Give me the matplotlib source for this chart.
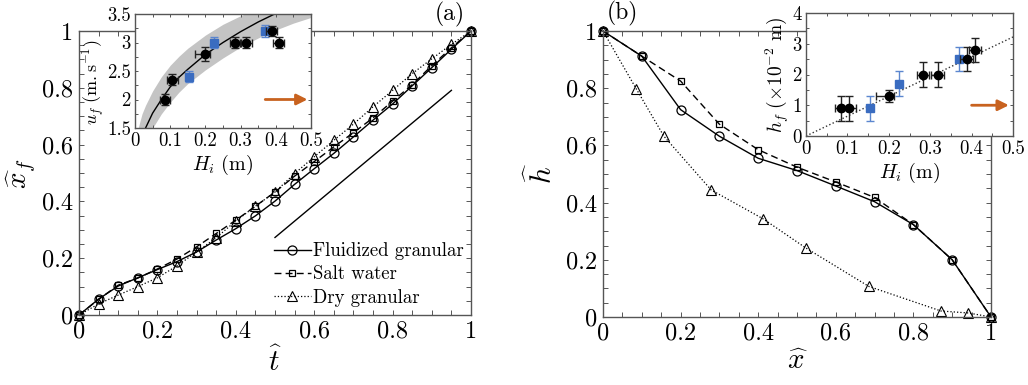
import numpy as np
import matplotlib
matplotlib.use("Agg")
import matplotlib.pyplot as plt
from matplotlib.ticker import MultipleLocator

plt.rcParams['font.family'] = ['cmr10', 'DejaVu Serif']
plt.rcParams['mathtext.fontset'] = 'cm'
plt.rcParams['axes.formatter.use_mathtext'] = True

# ---------------- data: panel (a) ----------------
t_hat = [0, 0.05, 0.1, 0.15, 0.2, 0.25, 0.3, 0.35, 0.4, 0.45, 0.5,
         0.55, 0.6, 0.65, 0.7, 0.75, 0.8, 0.85, 0.9, 0.95, 1.0]
xf_fluidized = [0, 0.056, 0.102, 0.131, 0.16, 0.188, 0.222, 0.264, 0.304, 0.349, 0.401,
                0.46, 0.515, 0.569, 0.627, 0.686, 0.743, 0.807, 0.871, 0.936, 1.0]
xf_salt = [0, 0.055, 0.105, 0.13, 0.162, 0.197, 0.24, 0.287, 0.334, 0.383, 0.433,
           0.489, 0.54, 0.592, 0.642, 0.694, 0.753, 0.811, 0.878, 0.941, 1.0]
xf_dry = [0, 0.039, 0.07, 0.1, 0.131, 0.173, 0.222, 0.272, 0.331, 0.383, 0.433,
          0.498, 0.557, 0.615, 0.672, 0.733, 0.791, 0.85, 0.902, 0.953, 1.0]
ref_line_t = [0.5, 0.95]
ref_line_x = [0.273, 0.791]

# inset (a): front speed vs initial height
Hi_black_a = [0.085, 0.106, 0.2, 0.284, 0.316, 0.388, 0.408]
uf_black_a = [2.0, 2.35, 2.8, 3.0, 3.0, 3.2, 3.0]
uf_black_yerr = [0.09, 0.09, 0.12, 0.09, 0.09, 0.09, 0.09]
Hi_black_xerr_lo = [0.015, 0.015, 0.03, 0.015, 0.015, 0.015, 0.015]
Hi_black_xerr_hi = [0.015, 0.015, 0.013, 0.015, 0.015, 0.015, 0.015]
Hi_blue_a = [0.154, 0.224, 0.369]
uf_blue_a = [2.4, 3.0, 3.2]
uf_blue_yerr = [0.1, 0.1, 0.1]
fit_H = [0.02, 0.03, 0.05, 0.075, 0.1, 0.125, 0.15, 0.2, 0.25, 0.3, 0.35, 0.4, 0.42]
fit_u = [1.32, 1.5, 1.76, 2.0, 2.22, 2.39, 2.53, 2.79, 3.0, 3.19, 3.36, 3.51, 3.56]
band_H = [0.0, 0.009, 0.02, 0.03, 0.05, 0.075, 0.1, 0.125, 0.15, 0.2, 0.25, 0.3, 0.35, 0.4, 0.45, 0.5]
band_upper = [1.2, 1.5, 1.75, 1.9, 2.15, 2.4, 2.6, 2.76, 2.9, 3.13, 3.32, 3.47, 3.6, 3.72, 3.82, 3.92]
band_lower = [0.5, 0.85, 1.1, 1.25, 1.5, 1.75, 1.95, 2.13, 2.28, 2.52, 2.73, 2.92, 3.08, 3.22, 3.34, 3.44]

# ---------------- data: panel (b) ----------------
x_hat = [0, 0.1, 0.2, 0.3, 0.4, 0.5, 0.6, 0.7, 0.8, 0.9, 1.0]
h_fluidized = [1.0, 0.912, 0.725, 0.632, 0.555, 0.512, 0.458, 0.403, 0.323, 0.2, 0.0]
h_salt = [1.0, 0.912, 0.825, 0.674, 0.585, 0.524, 0.472, 0.418, 0.323, 0.2, 0.0]
x_dry = [0, 0.086, 0.157, 0.279, 0.413, 0.522, 0.685, 0.871, 0.942, 1.0]
h_dry = [1.0, 0.797, 0.632, 0.444, 0.343, 0.242, 0.107, 0.021, 0.014, 0.0]

# inset (b): final height vs initial height
Hi_black_b = [0.085, 0.105, 0.2, 0.283, 0.318, 0.388, 0.408]
hf_black_b = [0.9, 0.9, 1.3, 2.0, 2.0, 2.5, 2.8]
hf_black_yerr = [0.4, 0.4, 0.2, 0.4, 0.4, 0.4, 0.4]
Hi_blue_b = [0.155, 0.225, 0.369]
hf_blue_b = [0.9, 1.7, 2.5]
hf_blue_yerr = [0.4, 0.4, 0.4]
trend_H = [0.0, 0.5]
trend_h = [0.0, 3.22]

# ---------------- styling ----------------
SPINE = '#555555'
BLUE = '#3a6cc0'
BLUE_ERR = '#5b86cf'
ORANGE = '#c8621f'
TICK_FS = 17.5
INSET_FS = 13.5
LABEL_FS = 21


def style_axes(ax, fs, xminor, yminor):
    for s in ax.spines.values():
        s.set_color(SPINE)
        s.set_linewidth(1.0)
    ax.tick_params(which='both', direction='in', top=True, right=True,
                   color=SPINE, labelsize=fs, pad=4)
    ax.tick_params(which='major', length=3.5, width=0.7)
    ax.tick_params(which='minor', length=3.5, width=0.7)
    ax.xaxis.set_minor_locator(MultipleLocator(xminor))
    ax.yaxis.set_minor_locator(MultipleLocator(yminor))


def fmt(v):
    s = ('%.2f' % v).rstrip('0').rstrip('.')
    return s


fig = plt.figure(figsize=(10.28, 3.85), dpi=100)

# ---- panel (a) ----
axA = fig.add_axes([79/1028, 1-315/385, 392/1028, 284/385])
axA.plot(t_hat, xf_fluidized, '-', color='k', lw=1.0, marker='o', ms=6.5,
         mfc='none', mec='k', mew=0.9, label='Fluidized granular', clip_on=False)
axA.plot(t_hat, xf_salt, '--', color='k', lw=1.0, marker='s', ms=5,
         mfc='none', mec='k', mew=0.9, dashes=(5, 3), label='Salt water', clip_on=False)
axA.plot(t_hat, xf_dry, ':', color='k', lw=0.9, marker='^', ms=7,
         mfc='none', mec='k', mew=0.8, label='Dry granular', clip_on=False)
axA.plot(ref_line_t, ref_line_x, '-', color='k', lw=1.0)
axA.set_xlim(0, 1)
axA.set_ylim(0, 1)
ticks = [0, 0.2, 0.4, 0.6, 0.8, 1.0]
axA.set_xticks(ticks)
axA.set_xticklabels([fmt(v) for v in ticks])
axA.set_yticks(ticks)
axA.set_yticklabels([fmt(v) for v in ticks])
style_axes(axA, TICK_FS, 0.05, 0.05)
axA.set_xlabel(r'$\widehat{t}$', fontsize=LABEL_FS, labelpad=3)
axA.set_ylabel(r'$\widehat{x}_f$', fontsize=LABEL_FS, labelpad=4)
axA.text(0.946, 1.06, '(a)', transform=axA.transAxes, fontsize=17,
         ha='center', va='center')
leg = axA.legend(loc='lower right', bbox_to_anchor=(1.01, -0.01), frameon=False,
                 fontsize=13.5, handlelength=2.0, handletextpad=0.1,
                 labelspacing=0.28, borderaxespad=0.2)

# ---- inset (a) ----
inA = fig.add_axes([135/1028, 1-128/385, 176/1028, 114/385])
inA.set_facecolor('white')
inA.fill_between(band_H, band_lower, band_upper, color='#c4c4c4', lw=0, zorder=1)
inA.plot(fit_H, fit_u, '-', color='k', lw=1.0, zorder=2)
inA.errorbar(Hi_blue_a, uf_blue_a, yerr=uf_blue_yerr, fmt='s', ms=5.5,
             mfc=BLUE, mec=BLUE, ecolor=BLUE_ERR, elinewidth=1.0, capsize=3, zorder=3)
inA.errorbar(Hi_black_a, uf_black_a, yerr=uf_black_yerr,
             xerr=[Hi_black_xerr_lo, Hi_black_xerr_hi], fmt='o', ms=6,
             mfc='k', mec='k', ecolor='#222222', elinewidth=1.0, capsize=3, zorder=4)
inA.annotate('', xy=(0.49, 2.0), xytext=(0.37, 2.0),
             arrowprops=dict(arrowstyle='-|>', color=ORANGE, lw=2.0,
                             mutation_scale=16, shrinkA=0, shrinkB=0), zorder=5)
inA.set_xlim(0, 0.5)
inA.set_ylim(1.5, 3.5)
xt = [0, 0.1, 0.2, 0.3, 0.4, 0.5]
inA.set_xticks(xt)
inA.set_xticklabels([fmt(v) for v in xt])
yt = [1.5, 2, 2.5, 3, 3.5]
inA.set_yticks(yt)
inA.set_yticklabels([fmt(v) for v in yt])
style_axes(inA, INSET_FS, 0.05, 0.25)
inA.tick_params(which='both', length=2.5, pad=3)
inA.set_xlabel(r'$H_i\ (\mathrm{m})$', fontsize=INSET_FS + 1, labelpad=2)
inA.set_ylabel(r'$u_f\ (\mathrm{m.s^{-1}})$', fontsize=13, labelpad=1)
inA.yaxis.set_label_coords(-0.165, 0.4)

# ---- panel (b) ----
axB = fig.add_axes([603/1028, 1-317/385, 388/1028, 286/385])
axB.plot(x_hat, h_fluidized, '-', color='k', lw=1.0, marker='o', ms=6.5,
         mfc='none', mec='k', mew=0.9, clip_on=False)
axB.plot(x_hat, h_salt, '--', color='k', lw=1.0, marker='s', ms=5,
         mfc='none', mec='k', mew=0.9, dashes=(5, 3), clip_on=False)
axB.plot(x_dry, h_dry, ':', color='k', lw=0.9, marker='^', ms=7,
         mfc='none', mec='k', mew=0.8, clip_on=False)
axB.set_xlim(0, 1)
axB.set_ylim(0, 1)
axB.set_xticks(ticks)
axB.set_xticklabels([fmt(v) for v in ticks])
axB.set_yticks(ticks)
axB.set_yticklabels([fmt(v) for v in ticks])
style_axes(axB, TICK_FS, 0.05, 0.05)
axB.set_xlabel(r'$\widehat{x}$', fontsize=LABEL_FS, labelpad=3)
axB.set_ylabel(r'$\widehat{h}$', fontsize=LABEL_FS, labelpad=6)
axB.text(0.05, 1.06, '(b)', transform=axB.transAxes, fontsize=17,
         ha='center', va='center')

# ---- inset (b) ----
inB = fig.add_axes([806/1028, 1-136/385, 207/1028, 123/385])
inB.set_facecolor('white')
inB.plot(trend_H, trend_h, ':', color='#333333', lw=1.0, zorder=1)
inB.errorbar(Hi_blue_b, hf_blue_b, yerr=hf_blue_yerr, fmt='s', ms=5.5,
             mfc=BLUE, mec=BLUE, ecolor=BLUE_ERR, elinewidth=1.0, capsize=3, zorder=3)
inB.errorbar(Hi_black_b, hf_black_b, yerr=hf_black_yerr,
             xerr=[Hi_black_xerr_lo, Hi_black_xerr_hi], fmt='o', ms=6,
             mfc='k', mec='k', ecolor='#222222', elinewidth=1.0, capsize=3, zorder=4)
inB.annotate('', xy=(0.49, 1.0), xytext=(0.4, 1.0),
             arrowprops=dict(arrowstyle='-|>', color=ORANGE, lw=2.0,
                             mutation_scale=16, shrinkA=0, shrinkB=0), zorder=5)
inB.set_xlim(0, 0.5)
inB.set_ylim(0, 4)
inB.set_xticks(xt)
inB.set_xticklabels([fmt(v) for v in xt])
ytb = [0, 1, 2, 3, 4]
inB.set_yticks(ytb)
inB.set_yticklabels([fmt(v) for v in ytb])
style_axes(inB, INSET_FS, 0.05, 0.5)
inB.tick_params(which='both', length=2.5, pad=3)
inB.set_xlabel(r'$H_i\ (\mathrm{m})$', fontsize=INSET_FS + 1, labelpad=2)
inB.set_ylabel(r'$h_f\ (\times 10^{-2}\ \mathrm{m})$', fontsize=INSET_FS + 0.5, labelpad=1)

fig.savefig('out.png', dpi=100)
